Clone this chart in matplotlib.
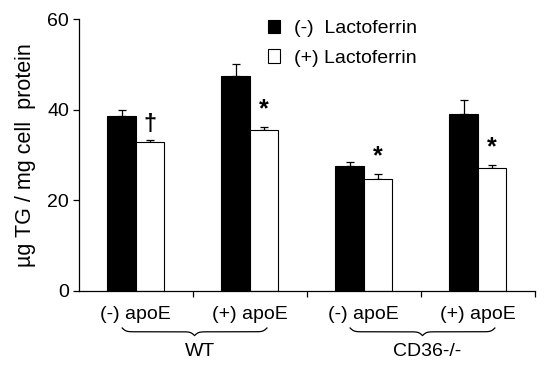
import numpy as np
import matplotlib
matplotlib.use("Agg")
import matplotlib.pyplot as plt
import matplotlib.transforms as mtransforms

plt.rcParams["font.family"] = ["Liberation Sans", "DejaVu Sans"]

categories = ["(-) apoE", "(+) apoE", "(-) apoE", "(+) apoE"]
groups = ["WT", "CD36-/-"]
series_labels = ["(-)  Lactoferrin", "(+) Lactoferrin"]
minus_lf = [38.5, 47.5, 27.6, 39.0]
minus_lf_err = [1.5, 2.5, 0.9, 3.1]
plus_lf = [32.9, 35.5, 24.7, 27.1]
plus_lf_err = [0.3, 0.6, 1.0, 0.8]
marks = ["\u2020", "*", "*", "*"]


def draw_brace(ax, x0, x1, y_top, height, beta=60.0):
    trans = mtransforms.blended_transform_factory(ax.transData, ax.transAxes)
    n = 201
    x = np.linspace(x0, x1, n)
    xh = x[: n // 2 + 1]
    yh = 1.0 / (1.0 + np.exp(-beta * (xh - xh[0]))) + 1.0 / (1.0 + np.exp(-beta * (xh - xh[-1])))
    yb = np.concatenate((yh, yh[-2::-1]))
    y = y_top - height * (yb - 0.5)
    ax.plot(x, y, color="black", lw=0.9, transform=trans, clip_on=False)


fig = plt.figure(figsize=(5.44, 3.69), dpi=100)
ax = fig.add_axes([0.145, 0.2114, 0.838, 0.7371])

xpos = np.arange(len(categories))
w = 0.25
ax.bar(xpos - w / 2, minus_lf, w, color="black", edgecolor="black", lw=0.8,
       label=series_labels[0], zorder=2)
ax.bar(xpos + w / 2, plus_lf, w, color="white", edgecolor="black", lw=0.8,
       label=series_labels[1], zorder=2)
ax.errorbar(xpos - w / 2, minus_lf, yerr=[np.zeros(4), minus_lf_err], fmt="none",
            ecolor="black", elinewidth=0.9, capsize=3, capthick=0.9, zorder=1)
ax.errorbar(xpos + w / 2, plus_lf, yerr=[np.zeros(4), plus_lf_err], fmt="none",
            ecolor="black", elinewidth=0.9, capsize=3, capthick=0.9, zorder=1)

for i, m in enumerate(marks):
    top = plus_lf[i] + plus_lf_err[i]
    if m == "*":
        ax.text(xpos[i] + w / 2, top + 3.9, m, ha="center", va="center",
                fontsize=18, fontweight="bold")
    else:
        ax.text(xpos[i] + w / 2, top + 3.5, m, ha="center", va="center",
                fontsize=17, fontweight="bold")

ax.set_xlim(-0.5, 3.5)
ax.set_ylim(0, 60)
ax.set_yticks([0, 20, 40, 60])
ax.set_xticks(xpos)
ax.set_xticklabels(categories, fontsize=14)
ax.tick_params(axis="x", length=0, pad=11)
ax.set_xticks(np.arange(0.5, 3.6, 1.0), minor=True)
ax.tick_params(axis="x", which="minor", length=4, direction="out", width=0.9)
ax.tick_params(axis="y", length=4, direction="out", width=0.9, labelsize=14, pad=3)
for s in ("top", "right"):
    ax.spines[s].set_visible(False)
for s in ("left", "bottom"):
    ax.spines[s].set_linewidth(0.9)
ax.set_ylabel("\u00b5g TG / mg cell  protein", fontsize=15.5, labelpad=8)

for g, (lo, hi) in enumerate([(0, 1), (2, 3)]):
    draw_brace(ax, xpos[lo] - 0.12, xpos[hi] + 0.15, -0.136, 0.028)
    ax.text((xpos[lo] + xpos[hi]) / 2 + 0.06, -0.224, groups[g], ha="center", va="center",
            fontsize=14, transform=mtransforms.blended_transform_factory(ax.transData, ax.transAxes))

ax.legend(loc="upper left", bbox_to_anchor=(0.414, 0.997), frameon=False, fontsize=14,
          handlelength=0.65, handleheight=0.7, handletextpad=0.7, labelspacing=0.6,
          borderpad=0, borderaxespad=0)

fig.savefig("out.png", dpi=100)
